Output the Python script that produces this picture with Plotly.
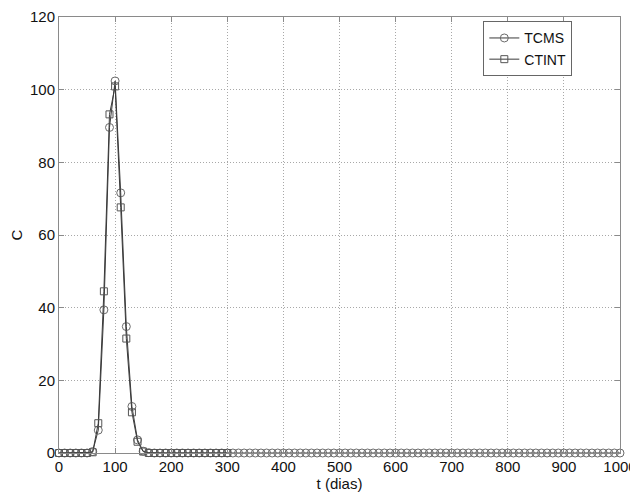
import plotly.graph_objects as go

# Data
t_tcms = list(range(0, 1001, 10))
tcms = [0.0, 0.0, 0.0, 0.0, 0.0, 0.0, 0.4, 6.3, 39.4, 89.6, 102.4, 71.6, 34.8, 12.8, 3.6, 0.5, 0.1] + [0.0] * 84

t_ctint = list(range(0, 301, 10))
ctint = [0.0, 0.0, 0.0, 0.0, 0.0, 0.0, 0.2, 8.2, 44.5, 93.2, 100.9, 67.6, 31.5, 11.2, 3.1, 0.4, 0.0] + [0.0] * 14

x_ticks = list(range(0, 1001, 100))
y_ticks = list(range(0, 121, 20))

FONT = "Liberation Sans, Arial, sans-serif"

fig = go.Figure()
fig.add_trace(go.Scatter(
    x=t_tcms, y=tcms, name="TCMS", mode="lines+markers",
    line=dict(color="#3a3a3a", width=1),
    marker=dict(symbol="circle-open", size=8, color="#6a6a6a", line=dict(width=1)),
    cliponaxis=False,
))
fig.add_trace(go.Scatter(
    x=t_ctint, y=ctint, name="CTINT", mode="lines+markers",
    line=dict(color="#3a3a3a", width=1),
    marker=dict(symbol="square-open", size=7, color="#555555", line=dict(width=1)),
    cliponaxis=False,
))

axis_common = dict(
    showline=True, linecolor="#8a8a8a", linewidth=1, mirror="ticks",
    ticks="inside", ticklen=5, tickcolor="#8a8a8a",
    showgrid=True, gridcolor="#a8a8a8", griddash="1px,2px", gridwidth=1,
    zeroline=False, automargin=False,
    tickfont=dict(family=FONT, size=15, color="#111111"),
    title_font=dict(family=FONT, size=15, color="#111111"),
)

fig.update_xaxes(range=[0, 1000], tickvals=x_ticks, title_text="t (dias)", title_standoff=2, **axis_common)
fig.update_yaxes(range=[0, 120], tickvals=y_ticks, title_text="C", title_standoff=14, **axis_common)

# page body has an 8px default margin; compensate so the plot area lands where the reference's does
fig.update_layout(
    width=630, height=490,
    margin=dict(l=51, r=18, t=9, b=45),
    paper_bgcolor="white", plot_bgcolor="white",
    font=dict(family=FONT, size=15, color="#111111"),
    legend=dict(
        x=0.915, y=0.99, xanchor="right", yanchor="top",
        bgcolor="white", bordercolor="#666666", borderwidth=1,
        font=dict(size=14), itemwidth=30, tracegroupgap=0,
    ),
    showlegend=True,
)

fig.write_html("out.html")
